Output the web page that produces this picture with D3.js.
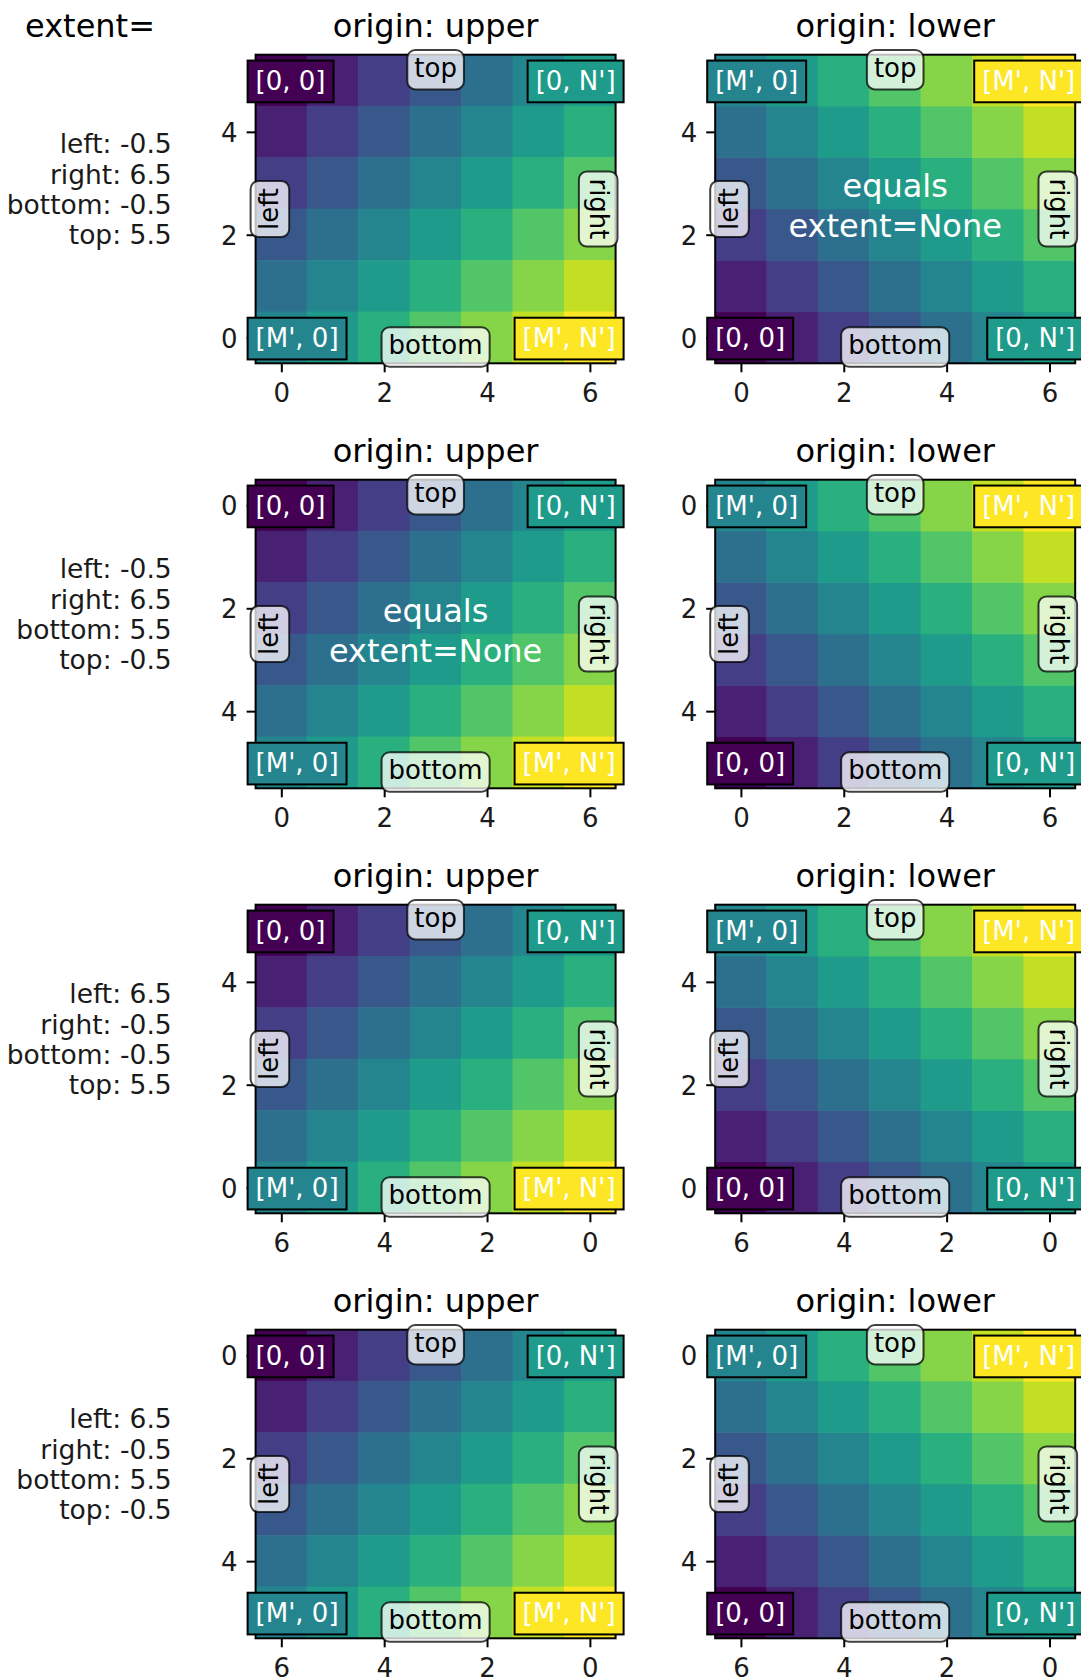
<!DOCTYPE html>
<html><head><meta charset="utf-8">
<script src="https://cdn.jsdelivr.net/npm/d3@7"></script>
<style>body{margin:0;background:#fff}svg{display:block;font-family:"DejaVu Sans",sans-serif}</style>
</head><body><svg id="chart" width="1081" height="1680"></svg>
<script>
// ---- data ----
const extents = [
  [-0.5, 6.5, -0.5, 5.5],
  [-0.5, 6.5, 5.5, -0.5],
  [6.5, -0.5, -0.5, 5.5],
  [6.5, -0.5, 5.5, -0.5]
];
const origins = ["upper", "lower"];
const gridValues = [
  [0, 1, 2, 3, 4, 5, 6],
  [1, 2, 3, 4, 5, 6, 7],
  [2, 3, 4, 5, 6, 7, 8],
  [3, 4, 5, 6, 7, 8, 9],
  [4, 5, 6, 7, 8, 9, 10],
  [5, 6, 7, 8, 9, 10, 11]
];
const xTickValues = [0, 2, 4, 6];
const yTickValues = [0, 2, 4];
const indexNames = ["[0, 0]", "[0, N']", "[M', 0]", "[M', N']"];
const noneTextPanels = [{row: 0, origin: "lower"}, {row: 1, origin: "upper"}];
const noneTextLines = ["equals", "extent=None"];

// ---- layout ----
const svg = d3.select("#chart");
const colX = {upper: 255.6, lower: 715.2};
const axW = 360, axH = 308.6, rowTop0 = 54.7, rowPitch = 425;
const FS = 26, LFS = 26.5, TFS = 32;
const nRows = gridValues.length, nCols = gridValues[0].length;
const vmax = d3.max(gridValues.flat());
const cmap = v => d3.interpolateViridis(v / vmax);

function measure(text, size) {
  const t = svg.append("text").attr("font-size", size).text(text);
  const w = t.node().getComputedTextLength();
  t.remove();
  return w;
}

function indexToCoordinate(index, ext, origin) {
  let [left, right, bottom, top] = ext;
  const hs = 0.5 * Math.sign(right - left);
  left += hs; right -= hs;
  const vs = 0.5 * Math.sign(top - bottom);
  bottom += vs; top -= vs;
  if (origin === "upper") [bottom, top] = [top, bottom];
  return {"[0, 0]": [left, bottom], "[M', 0]": [left, top],
          "[0, N']": [right, bottom], "[M', N']": [right, top]}[index];
}
function indexLabelPos(index, ext, origin) {
  const [left, right] = ext;
  let [x, y] = indexToCoordinate(index, ext, origin);
  const isX0 = index.endsWith("0]");
  const halign = isX0 ? "start" : "end";
  const hs = 0.5 * Math.sign(left - right);
  x += hs * (isX0 ? 1 : -1);
  return [x, y, halign];
}
function cornerValue(index) {
  return {"[0, 0]": gridValues[0][0], "[0, N']": gridValues[0][nCols - 1],
          "[M', 0]": gridValues[nRows - 1][0], "[M', N']": gridValues[nRows - 1][nCols - 1]}[index];
}

// titles & left labels
svg.append("text").attr("x", 90).attr("y", 36.7).attr("text-anchor", "middle")
  .attr("font-size", TFS).attr("fill", "#000").text("extent=");

extents.forEach((ext, r) => {
  const top = rowTop0 + r * rowPitch;
  const lines = [`left: ${ext[0].toFixed(1)}`, `right: ${ext[1].toFixed(1)}`,
                 `bottom: ${ext[2].toFixed(1)}`, `top: ${ext[3].toFixed(1)}`];
  lines.forEach((s, k) => {
    svg.append("text").attr("x", 171.7).attr("y", top + 98.6 + k * 30.2)
      .attr("text-anchor", "end").attr("font-size", LFS).attr("fill", "#1a1a1a").text(s);
  });

  origins.forEach(origin => {
    const x0 = colX[origin];
    const [l, rr, b, t] = ext;
    const xs = d3.scaleLinear().domain([l, rr]).range([x0, x0 + axW]);
    const ys = d3.scaleLinear().domain([b, t]).range([top + axH, top]);
    const g = svg.append("g");

    // image cells
    const cw = (rr - l) / nCols, ch = (t - b) / nRows;
    gridValues.forEach((row, i) => {
      row.forEach((v, j) => {
        const xa = xs(l + j * cw), xb = xs(l + (j + 1) * cw);
        const ya = origin === "upper" ? ys(t - i * ch) : ys(b + i * ch);
        const yb = origin === "upper" ? ys(t - (i + 1) * ch) : ys(b + (i + 1) * ch);
        g.append("rect").attr("x", Math.min(xa, xb) - 0.3).attr("y", Math.min(ya, yb) - 0.3)
          .attr("width", Math.abs(xb - xa) + 0.6).attr("height", Math.abs(yb - ya) + 0.6)
          .attr("fill", cmap(v));
      });
    });

    // frame
    g.append("rect").attr("x", x0).attr("y", top).attr("width", axW).attr("height", axH)
      .attr("fill", "none").attr("stroke", "#000").attr("stroke-width", 2);

    // axes
    const xAxis = d3.axisBottom(xs).tickValues(xTickValues).tickSize(9).tickPadding(9).tickFormat(d3.format("d"));
    const yAxis = d3.axisLeft(ys).tickValues(yTickValues).tickSize(9).tickPadding(9).tickFormat(d3.format("d"));
    const gx = g.append("g").attr("transform", `translate(0,${top + axH})`).call(xAxis);
    const gy = g.append("g").attr("transform", `translate(${x0},0)`).call(yAxis);
    [gx, gy].forEach(a => {
      a.select(".domain").remove();
      a.selectAll(".tick line").attr("stroke", "#000").attr("stroke-width", 2);
      a.selectAll(".tick text").attr("font-size", FS).attr("fill", "#1a1a1a")
        .attr("font-family", "DejaVu Sans");
    });
    gx.selectAll(".tick text").attr("dy", null).attr("y", 39);
    gy.selectAll(".tick text").attr("dy", null).attr("y", 9.5).attr("x", -18);

    // title
    g.append("text").attr("x", x0 + axW / 2).attr("y", top - 18).attr("text-anchor", "middle")
      .attr("font-size", TFS).attr("fill", "#000").text(`origin: ${origin}`);

    // edge annotations (round boxes)
    const cx = x0 + axW / 2, cy = top + axH / 2;
    const boxFill = "rgba(255,255,255,0.75)", boxStroke = "rgba(0,0,0,0.75)";
    function hbox(text, boxTop) {
      const w = measure(text, FS) + 14, h = 39.4;
      g.append("rect").attr("x", cx - w / 2).attr("y", boxTop).attr("width", w).attr("height", h)
        .attr("rx", 8).attr("fill", boxFill).attr("stroke", boxStroke).attr("stroke-width", 2);
      g.append("text").attr("x", cx).attr("y", boxTop + h / 2 + 7).attr("text-anchor", "middle")
        .attr("font-size", FS).attr("fill", "#000").text(text);
    }
    hbox("top", top - 4.7);
    hbox("bottom", top + axH - 36);
    function vbox(text, boxCx, rot) {
      const len = measure(text, FS) + 14, w = 38.6;
      g.append("rect").attr("x", boxCx - w / 2).attr("y", cy - len / 2).attr("width", w).attr("height", len)
        .attr("rx", 8).attr("fill", boxFill).attr("stroke", boxStroke).attr("stroke-width", 2);
      const bx = rot < 0 ? boxCx + 8 : boxCx - 8;
      g.append("text").attr("transform", `translate(${bx},${cy}) rotate(${rot})`)
        .attr("text-anchor", "middle").attr("font-size", FS).attr("fill", "#000").text(text);
    }
    vbox("left", x0 + 14.3, -90);
    vbox("right", x0 + axW - 17.4, 90);

    // index labels
    indexNames.forEach(name => {
      const [dx, dy, anchor] = indexLabelPos(name, ext, origin);
      const px = xs(dx), py = ys(dy) + 1;
      const w = measure(name, FS), pad = 8, h = 41.7;
      const bx = anchor === "start" ? px - pad : px - w - pad;
      g.append("rect").attr("x", bx).attr("y", py - h / 2).attr("width", w + 2 * pad).attr("height", h)
        .attr("fill", cmap(cornerValue(name))).attr("stroke", "#000").attr("stroke-width", 2);
      g.append("text").attr("x", px).attr("y", py + 8.5).attr("text-anchor", anchor)
        .attr("font-size", FS).attr("fill", "#fff").text(name);
    });

    // "equals extent=None"
    if (noneTextPanels.some(p => p.row === r && p.origin === origin)) {
      const tx = xs(3), ty = ys(2.5);
      noneTextLines.forEach((s, k) => {
        g.append("text").attr("x", tx).attr("y", ty - 12.3 + k * 40.6).attr("text-anchor", "middle")
          .attr("font-size", TFS).attr("fill", "#fff").text(s);
      });
    }
  });
});
</script></body></html>
